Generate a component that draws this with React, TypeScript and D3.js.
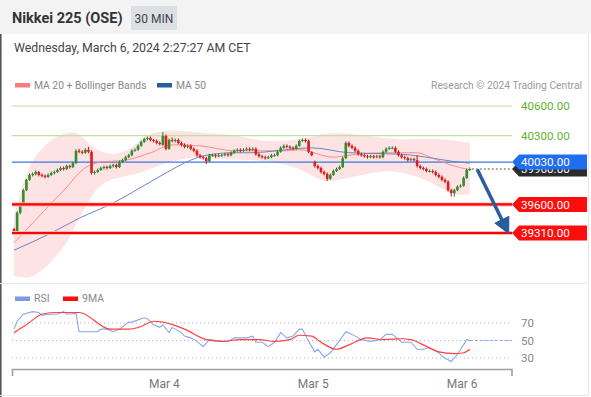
import React from 'react';
import * as d3 from 'd3';

const W = 591;
const H = 397;

// 30 min candles, oldest first
const opens = [39350, 39330, 39515, 39605, 39745, 39850, 39900, 39910, 39930, 39900,
  39890, 39880, 39900, 39920, 39930, 39950, 39970, 39960, 39990, 39980,
  40020, 40145, 40135, 40125, 40155, 40135, 39920, 39930, 39950, 39970,
  39980, 39970, 39990, 40000, 39980, 40030, 40050, 40080, 40100, 40145,
  40155, 40195, 40235, 40265, 40275, 40255, 40245, 40225, 40205, 40295,
  40165, 40255, 40245, 40255, 40225, 40205, 40185, 40195, 40165, 40145,
  40100, 40080, 40070, 40040, 40100, 40100, 40090, 40100, 40100, 40110,
  40100, 40125, 40145, 40155, 40145, 40155, 40165, 40155, 40165, 40110,
  40090, 40080, 40070, 40080, 40100, 40100, 40135, 40175, 40195, 40185,
  40175, 40165, 40195, 40245, 40255, 40245, 40130, 40030, 39990, 39970,
  39930, 39910, 39860, 39900, 39940, 39960, 39980, 40070, 40225, 40195,
  40175, 40145, 40110, 40100, 40090, 40080, 40090, 40080, 40090, 40080,
  40135, 40165, 40175, 40175, 40135, 40100, 40080, 40070, 40050, 40060,
  40050, 39990, 39970, 39960, 39940, 39940, 39930, 39900, 39880, 39850,
  39830, 39745, 39715, 39745, 39780, 39790, 39870, 39950];
const highs = [39365, 39530, 39620, 39760, 39860, 39915, 39925, 39945, 39940, 39915,
  39905, 39915, 39935, 39945, 39965, 39985, 39985, 40005, 40005, 40035,
  40160, 40165, 40150, 40170, 40185, 40150, 39945, 39965, 39985, 39995,
  39995, 40005, 40015, 40015, 40045, 40065, 40095, 40115, 40160, 40170,
  40210, 40250, 40280, 40290, 40290, 40265, 40260, 40240, 40335, 40310,
  40270, 40280, 40270, 40270, 40240, 40220, 40210, 40210, 40180, 40160,
  40115, 40095, 40085, 40115, 40115, 40115, 40115, 40115, 40125, 40125,
  40140, 40160, 40170, 40170, 40170, 40180, 40180, 40180, 40180, 40125,
  40105, 40095, 40095, 40115, 40115, 40150, 40190, 40210, 40210, 40200,
  40190, 40210, 40260, 40270, 40270, 40260, 40140, 40045, 40005, 39985,
  39945, 39925, 39915, 39955, 39975, 39995, 40085, 40240, 40240, 40210,
  40190, 40160, 40125, 40115, 40105, 40105, 40105, 40105, 40105, 40150,
  40180, 40190, 40190, 40190, 40150, 40115, 40095, 40085, 40075, 40075,
  40100, 40005, 39985, 39975, 39955, 39955, 39945, 39915, 39895, 39865,
  39845, 39760, 39760, 39795, 39805, 39885, 39965, 39975];
const lows = [39315, 39320, 39500, 39595, 39735, 39840, 39885, 39895, 39885, 39875,
  39865, 39870, 39890, 39905, 39920, 39940, 39945, 39950, 39965, 39970,
  40010, 40120, 40110, 40115, 40120, 39905, 39905, 39920, 39940, 39955,
  39955, 39960, 39975, 39965, 39970, 40020, 40040, 40070, 40090, 40135,
  40145, 40185, 40225, 40250, 40240, 40230, 40210, 40200, 40195, 40150,
  40155, 40230, 40230, 40210, 40190, 40170, 40170, 40150, 40130, 40085,
  40065, 40055, 40010, 40030, 40085, 40075, 40080, 40085, 40090, 40085,
  40090, 40115, 40135, 40130, 40135, 40145, 40140, 40145, 40095, 40075,
  40065, 40055, 40060, 40070, 40085, 40090, 40125, 40165, 40170, 40160,
  40150, 40155, 40185, 40235, 40230, 40120, 40090, 39975, 39955, 39915,
  39895, 39840, 39850, 39890, 39930, 39950, 39970, 40060, 40180, 40160,
  40130, 40095, 40085, 40075, 40065, 40070, 40065, 40070, 40065, 40070,
  40125, 40155, 40160, 40120, 40085, 40065, 40055, 40035, 40040, 40035,
  39975, 39955, 39945, 39925, 39925, 39915, 39885, 39865, 39835, 39815,
  39730, 39680, 39680, 39735, 39770, 39780, 39860, 39940];
const closes = [39330, 39515, 39605, 39745, 39850, 39900, 39910, 39930, 39900, 39890,
  39880, 39900, 39920, 39930, 39950, 39970, 39960, 39990, 39980, 40020,
  40145, 40135, 40125, 40155, 40135, 39920, 39930, 39950, 39970, 39980,
  39970, 39990, 40000, 39980, 40030, 40050, 40080, 40100, 40145, 40155,
  40195, 40235, 40265, 40275, 40255, 40245, 40225, 40215, 40295, 40165,
  40255, 40245, 40255, 40225, 40205, 40185, 40195, 40165, 40145, 40100,
  40080, 40070, 40040, 40100, 40100, 40090, 40100, 40100, 40110, 40100,
  40125, 40145, 40155, 40145, 40155, 40165, 40155, 40165, 40110, 40090,
  40080, 40070, 40080, 40100, 40100, 40135, 40175, 40195, 40185, 40175,
  40165, 40195, 40245, 40255, 40245, 40135, 40100, 39990, 39970, 39930,
  39910, 39860, 39900, 39940, 39960, 39980, 40070, 40225, 40195, 40175,
  40145, 40110, 40100, 40090, 40080, 40090, 40080, 40090, 40080, 40135,
  40165, 40175, 40175, 40135, 40100, 40080, 40070, 40050, 40060, 40050,
  39990, 39970, 39960, 39940, 39940, 39930, 39900, 39880, 39850, 39830,
  39745, 39715, 39745, 39780, 39790, 39870, 39950, 39960];

// moving averages, read at a few bar positions
const ma20Idx = [0, 6, 13, 17, 22, 28, 36, 44, 51, 60, 71, 87, 92, 103, 108, 119, 130, 135, 141, 147];
const ma20 = [39210, 39410, 39645, 39775, 39950, 40030, 40050, 40125, 40205, 40195, 40145, 40145, 40155, 40080, 40100, 40125, 40125, 40070, 40000, 39950];
const ma50Idx = [0, 12, 21, 32, 41, 49, 57, 62, 71, 76, 96, 108, 125, 135, 141, 147];
const ma50 = [39135, 39310, 39460, 39615, 39775, 39920, 40050, 40100, 40125, 40125, 40175, 40125, 40110, 40070, 40040, 40020];
const bbIdx = [0, 3, 6, 12, 17, 21, 24, 28, 33, 38, 41, 44, 49, 51, 57, 60, 66, 71, 76, 82, 92, 98, 101, 108, 119, 125, 134, 141, 147];
const bbUpper = [39480, 39840, 40070, 40270, 40335, 40335, 40210, 40130, 40100, 40175, 40260, 40325, 40350, 40355, 40340, 40325, 40315, 40305, 40270, 40235, 40255, 40300, 40325, 40325, 40275, 40255, 40270, 40255, 40225];
const bbLower = [38870, 38860, 38850, 39010, 39200, 39460, 39640, 39820, 39870, 39900, 39925, 39960, 40020, 40035, 40080, 40075, 40062, 40055, 40052, 40040, 39980, 39850, 39830, 39870, 39950, 39930, 39850, 39690, 39700];

// RSI panel
const rsiIdx = [0, 1, 3, 6, 8, 9, 12, 14, 16, 17, 20, 21, 24, 27, 28, 30, 32, 34, 37, 38, 42, 43, 45, 47, 48, 50, 51, 54, 55, 57, 59, 61, 63, 67, 69, 71, 73, 75, 77, 78, 80, 82, 84, 86, 88, 90, 92, 93, 95, 97, 98, 100, 102, 104, 107, 109, 112, 115, 118, 120, 122, 125, 128, 130, 132, 134, 137, 138, 141, 143, 146, 147];
const rsi = [63, 72, 80, 83, 82, 79, 80, 80, 83, 80, 81, 60, 60, 60, 63, 63, 60, 63, 71, 71, 76, 75, 68, 65, 68, 59, 65, 59, 55, 53, 49, 43, 51, 49, 49, 53, 53, 53, 55, 48, 48, 43, 48, 59, 53, 55, 63, 63, 49, 37, 40, 31, 36, 45, 60, 57, 51, 49, 51, 57, 57, 48, 48, 40, 40, 42, 36, 32, 26, 34, 51, 50];
const ma9Idx = [0, 4, 9, 13, 21, 31, 37, 41, 45, 48, 55, 62, 67, 73, 79, 84, 89, 92, 96, 99, 104, 108, 114, 119, 125, 128, 132, 137, 142, 145, 147];
const ma9 = [59, 68, 80, 82, 82, 63, 63, 66, 72, 71, 63, 51, 49, 51, 51, 49, 51, 56, 55, 48, 40, 45, 53, 51, 52, 51, 45, 37, 35, 36, 40];

const resistances = [40600, 40300];
const pivot = 40030;
const supports = [39600, 39310];
const lastPrice = 39960;
const rsiLevels = [70, 50, 30];
const dayTicks = [48.5, 96.5, 144.5];
const dayLabels = ['Mar 4', 'Mar 5', 'Mar 6'];
const arrowFrom: [number, number] = [149.4, 39955];
const arrowTo: [number, number] = [159.2, 39325];

const FONT = 'Roboto, sans-serif';

const x = d3.scaleLinear().domain([-0.65, 160.6]).range([12, 512]);
const y = d3.scaleLinear().domain([39310, 40600]).range([233, 106]);
const yr = d3.scaleLinear().domain([30, 70]).range([358, 323]);

const Label = ({ v, fill }: { v: number; fill: string }) => {
  const yc = y(v);
  const p = `M512,${yc} L519,${yc - 7.5} L587,${yc - 7.5} L587,${yc + 7.5} L519,${yc + 7.5} Z`;
  return (
    <g>
      <path d={p} fill={fill} />
      <text x={521} y={yc + 4.2} fill="#fff" fontSize={11.6} fontFamily={FONT}>
        {v.toFixed(2)}
      </text>
    </g>
  );
};

export default function App() {
  const maLine = (idx: number[]) =>
    d3.line<number>().x((_, i) => x(idx[i])).y((d) => y(d)).curve(d3.curveMonotoneX);
  const band = d3
    .area<number>()
    .x((_, i) => x(bbIdx[i]))
    .y0((_, i) => y(bbLower[i]))
    .y1((d) => y(d))
    .curve(d3.curveBasis);
  const rsiLine = d3.line<number>().x((_, i) => x(rsiIdx[i])).y((d) => yr(d));
  const ma9Line = d3.line<number>().x((_, i) => x(ma9Idx[i])).y((d) => yr(d)).curve(d3.curveMonotoneX);
  const lastRsi = rsi[rsi.length - 1];

  return (
    <svg width={W} height={H} style={{ position: 'absolute', left: 0, top: 0, display: 'block' }}>
      <defs>
        <clipPath id="plot">
          <rect x={12} y={95} width={500} height={186} />
        </clipPath>
        <marker id="head" viewBox="0 0 10 10" refX={8} refY={5} markerWidth={17} markerHeight={17}
          markerUnits="userSpaceOnUse" orient="auto">
          <path d="M0,0 L10,5 L0,10 Z" fill="#2b5c9e" />
        </marker>
      </defs>
      <rect width={W} height={H} fill="#fff" />
      <rect width={W} height={34} fill="#f3f3f3" />
      <line x1={0.8} x2={0.8} y1={34} y2={H} stroke="#555" strokeWidth={1.6} />
      <line x1={0} x2={588} y1={283.5} y2={283.5} stroke="#e6e6e6" />
      <line x1={0} x2={588} y1={395.5} y2={395.5} stroke="#e6e6e6" />
      <line x1={588.5} x2={588.5} y1={34} y2={395} stroke="#e6e6e6" />

      {/* header */}
      <text x={12} y={23} fontSize={14.5} fontWeight="bold" fill="#333" fontFamily={FONT}>Nikkei 225 (OSE)</text>
      <rect x={131} y={6} width={46} height={24} fill="#dcdfe3" />
      <text x={154} y={22.5} fontSize={12} fill="#444" textAnchor="middle" fontFamily={FONT}>30 MIN</text>
      <text x={14} y={52} fontSize={12.3} fill="#444" fontFamily={FONT}>Wednesday, March 6, 2024 2:27:27 AM CET</text>

      {/* legend */}
      <rect x={15} y={83} width={15} height={4.5} fill="#ff7b7b" />
      <text x={34} y={89} fontSize={10.3} fill="#888" fontFamily={FONT}>MA 20 + Bollinger Bands</text>
      <rect x={157} y={83} width={15} height={4.5} fill="#2b5c9e" />
      <text x={176} y={89} fontSize={10.3} fill="#888" fontFamily={FONT}>MA 50</text>
      <text x={582} y={89} fontSize={10.3} fill="#9a9a9a" textAnchor="end" fontFamily={FONT}>Research © 2024 Trading Central</text>

      <g clipPath="url(#plot)">
        <path d={band(bbUpper) ?? ''} fill="#fde3e3" />
      </g>

      {resistances.map((v) => (
        <line key={v} x1={12} x2={512} y1={y(v)} y2={y(v)} stroke="#c3e0a4" strokeWidth={1.2} />
      ))}
      <line x1={12} x2={512} y1={y(pivot)} y2={y(pivot)} stroke="#3b78e7" strokeWidth={1.3} />

      <g clipPath="url(#plot)">
        <path d={maLine(ma20Idx)(ma20) ?? ''} fill="none" stroke="#ff8c8c" strokeWidth={1} />
        <path d={maLine(ma50Idx)(ma50) ?? ''} fill="none" stroke="#6a86c2" strokeWidth={1} />
      </g>

      {closes.map((c, i) => {
        const o = opens[i];
        const up = c >= o;
        const col = up ? '#2f8f2f' : '#e01b1b';
        const top = y(Math.max(o, c));
        const h = Math.max(1, y(Math.min(o, c)) - top);
        return (
          <g key={i}>
            <line x1={x(i)} x2={x(i)} y1={y(highs[i])} y2={y(lows[i])} stroke={up ? '#256f25' : '#b51515'} strokeWidth={1} />
            <rect x={x(i) - 1.3} y={top} width={2.6} height={h} fill={col} />
          </g>
        );
      })}

      {supports.map((v) => (
        <g key={v}>
          <line x1={12} x2={512} y1={y(v)} y2={y(v)} stroke="#ffb3b3" strokeWidth={4} />
          <line x1={12} x2={512} y1={y(v)} y2={y(v)} stroke="#ff0000" strokeWidth={2.2} />
        </g>
      ))}

      <line x1={x(closes.length - 1) + 2} x2={512} y1={y(lastPrice)} y2={y(lastPrice)} stroke="#555" strokeDasharray="2,2" />
      <line x1={x(arrowFrom[0])} y1={y(arrowFrom[1])} x2={x(arrowTo[0])} y2={y(arrowTo[1])}
        stroke="#2b5c9e" strokeWidth={3.5} markerEnd="url(#head)" />

      {/* price labels */}
      {resistances.map((v) => (
        <text key={v} x={521} y={y(v) + 4.2} fontSize={11.6} fill="#62b32e" fontFamily={FONT}>{v.toFixed(2)}</text>
      ))}
      <Label v={lastPrice} fill="#2b2b2b" />
      <Label v={pivot} fill="#1f6ef2" />
      {supports.map((v) => <Label key={v} v={v} fill="#ff0d0d" />)}

      {/* RSI panel */}
      <rect x={15} y={296.5} width={15} height={4.5} fill="#7b9be6" />
      <text x={34} y={302} fontSize={10.5} fill="#888" fontFamily={FONT}>RSI</text>
      <rect x={63} y={296.5} width={15} height={4.5} fill="#ff0d0d" />
      <text x={82} y={302} fontSize={10.5} fill="#888" fontFamily={FONT}>9MA</text>

      {rsiLevels.map((v) => (
        <g key={v}>
          <line x1={12} x2={510} y1={yr(v)} y2={yr(v)} stroke="#b5b5b5" strokeDasharray="1,3" />
          <text x={521} y={yr(v) + 4} fontSize={11.5} fill="#888" fontFamily={FONT}>{v}</text>
        </g>
      ))}
      <path d={rsiLine(rsi) ?? ''} fill="none" stroke="#8aa6ee" strokeWidth={1.1} />
      <line x1={x(rsiIdx[rsiIdx.length - 1])} x2={512} y1={yr(lastRsi)} y2={yr(lastRsi)} stroke="#8aa6ee" strokeDasharray="3,2" />
      <path d={ma9Line(ma9) ?? ''} fill="none" stroke="#ff4040" strokeWidth={1.2} />

      {/* time axis */}
      <path d="M12.5,376 V369.5 H512 V376" fill="none" stroke="#a0a0a0" strokeWidth={1.6} />
      {dayTicks.map((t, i) => (
        <text key={t} x={x(t)} y={388} fontSize={12} fill="#777" textAnchor="middle" fontFamily={FONT}>{dayLabels[i]}</text>
      ))}
    </svg>
  );
}
